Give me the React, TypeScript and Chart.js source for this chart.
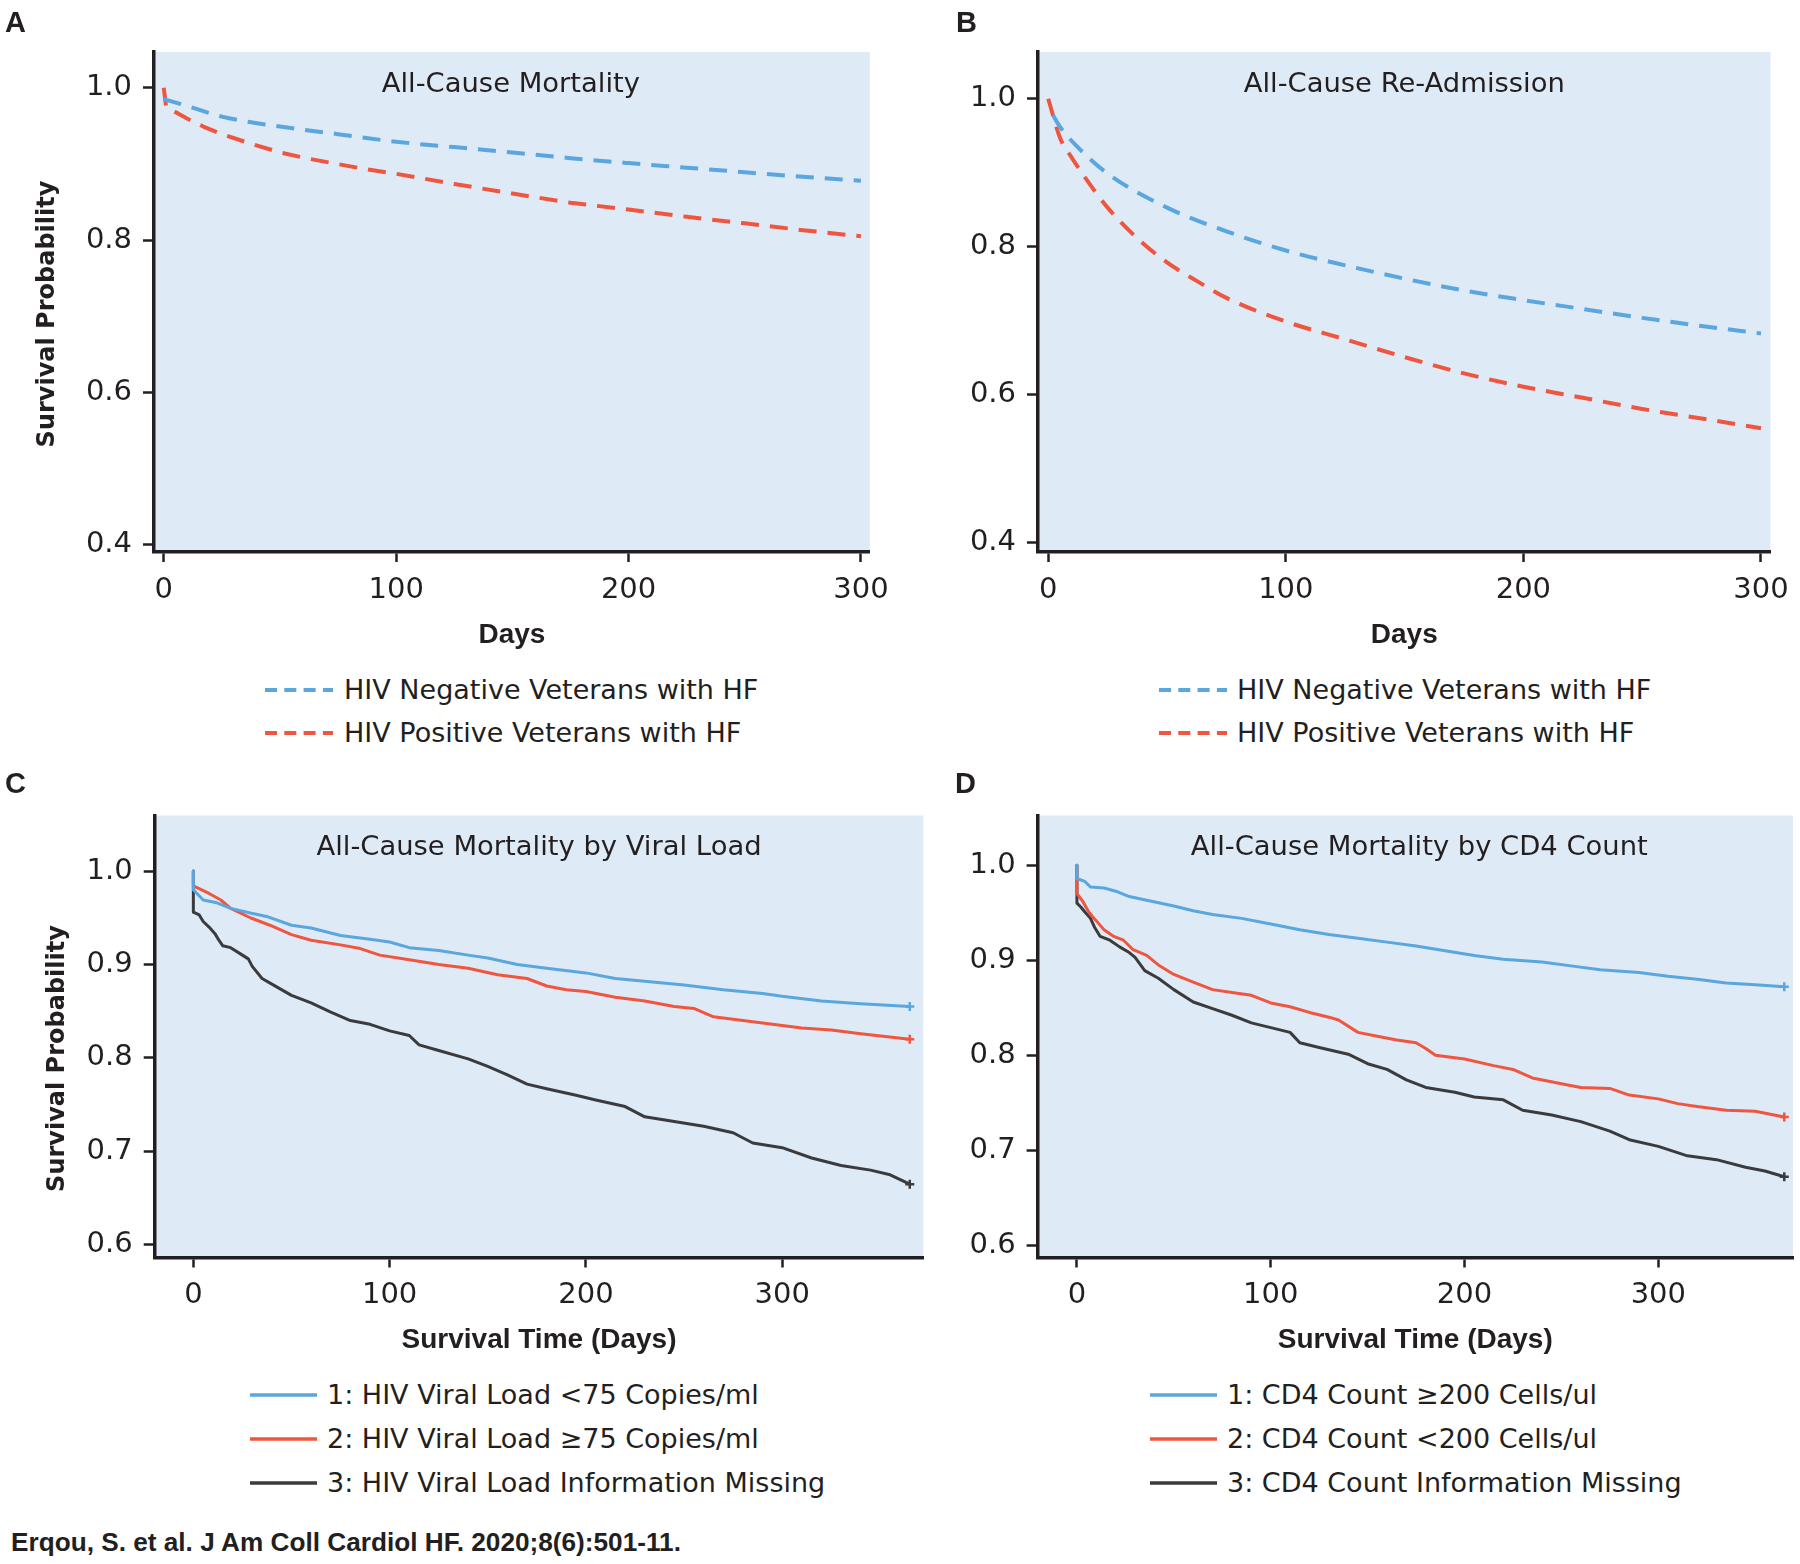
import React, { useEffect, useRef } from "react";
import { Chart, registerables } from "chart.js";

Chart.register(...registerables);

// ---------------- DATA ----------------
// Panel A: All-Cause Mortality (adjusted survival curves)
const daysANeg = [0, 10, 25, 50, 75, 100, 125, 150, 175, 200, 225, 250, 275, 300];
const aNeg = [0.985, 0.976, 0.962, 0.949, 0.939, 0.929, 0.922, 0.915, 0.9075, 0.901, 0.895, 0.889, 0.883, 0.878];
const daysAPos = [0, 1, 5, 10, 17, 25, 37, 50, 62, 75, 87, 100, 125, 150, 175, 200, 225, 250, 275, 300];
const aPos = [1.0, 0.975, 0.968, 0.9595, 0.949, 0.939, 0.927, 0.915, 0.907, 0.8997, 0.893, 0.887, 0.8737, 0.861, 0.849, 0.84, 0.8306, 0.822, 0.813, 0.805];

// Panel B: All-Cause Re-Admission
const daysBNeg = [2, 5, 12, 25, 50, 75, 100, 125, 150, 175, 200, 225, 250, 275, 300];
const bNeg = [0.978, 0.962, 0.936, 0.899, 0.853, 0.821, 0.795, 0.775, 0.757, 0.741, 0.728, 0.716, 0.704, 0.693, 0.683];
const daysBPos = [0, 5, 10, 15, 25, 38, 50, 63, 75, 100, 125, 150, 175, 200, 225, 250, 275, 300];
const bPos = [1.0, 0.947, 0.92, 0.896, 0.853, 0.81, 0.779, 0.753, 0.731, 0.699, 0.675, 0.651, 0.629, 0.611, 0.596, 0.581, 0.568, 0.555];

// Panel C: All-Cause Mortality by Viral Load (Kaplan-Meier)
const daysC1 = [0, 0, 5, 12, 19, 29, 38, 50, 60, 75, 90, 100, 110, 125, 140, 150, 165, 180, 200, 215, 230, 250, 270, 290, 300, 320, 340, 365];
const c1 = [1.0, 0.98, 0.969, 0.966, 0.96, 0.955, 0.951, 0.942, 0.939, 0.931, 0.927, 0.924, 0.918, 0.915, 0.91, 0.907, 0.9, 0.896, 0.891, 0.885, 0.882, 0.878, 0.873, 0.869, 0.866, 0.861, 0.858, 0.855];
const daysC2 = [0, 0, 8, 14, 19, 29, 39, 50, 60, 75, 85, 95, 110, 125, 140, 155, 170, 180, 190, 200, 215, 230, 245, 255, 265, 280, 295, 310, 325, 340, 365];
const c2 = [1.0, 0.984, 0.976, 0.969, 0.96, 0.95, 0.942, 0.932, 0.926, 0.921, 0.917, 0.91, 0.905, 0.9, 0.896, 0.889, 0.885, 0.877, 0.873, 0.871, 0.865, 0.861, 0.855, 0.853, 0.844, 0.84, 0.836, 0.832, 0.83, 0.826, 0.82];
const daysC3 = [0, 0, 3, 5, 8, 11, 13, 15, 19, 25, 28, 30, 35, 40, 50, 60, 70, 80, 90, 100, 110, 115, 125, 140, 150, 160, 170, 180, 195, 205, 220, 230, 245, 260, 275, 285, 300, 315, 330, 345, 355, 365];
const c3 = [1.0, 0.956, 0.953, 0.946, 0.94, 0.933, 0.926, 0.92, 0.918, 0.91, 0.906, 0.898, 0.885, 0.879, 0.867, 0.859, 0.849, 0.84, 0.836, 0.829, 0.824, 0.814, 0.808, 0.799, 0.791, 0.782, 0.772, 0.767, 0.76, 0.755, 0.748, 0.737, 0.732, 0.727, 0.72, 0.709, 0.704, 0.693, 0.685, 0.68, 0.675, 0.665];

// Panel D: All-Cause Mortality by CD4 Count (Kaplan-Meier)
const daysD1 = [0, 0, 4, 7, 14, 21, 27, 36, 50, 60, 70, 85, 100, 115, 130, 145, 160, 175, 190, 205, 220, 240, 255, 270, 290, 305, 320, 335, 350, 365];
const d1 = [1.0, 0.986, 0.983, 0.977, 0.976, 0.972, 0.967, 0.963, 0.957, 0.952, 0.948, 0.944, 0.938, 0.932, 0.927, 0.923, 0.919, 0.915, 0.91, 0.905, 0.901, 0.898, 0.894, 0.89, 0.887, 0.883, 0.88, 0.876, 0.874, 0.872];
const daysD2 = [0, 0, 3, 6, 8, 11, 14, 19, 24, 29, 36, 42, 50, 60, 70, 80, 90, 100, 110, 120, 130, 135, 145, 155, 165, 175, 180, 185, 200, 215, 225, 235, 250, 260, 275, 285, 300, 310, 320, 335, 350, 365];
const d2 = [1.0, 0.97, 0.962, 0.951, 0.946, 0.939, 0.932, 0.925, 0.921, 0.911, 0.905, 0.895, 0.885, 0.877, 0.869, 0.866, 0.863, 0.855, 0.851, 0.845, 0.84, 0.837, 0.824, 0.82, 0.816, 0.813, 0.807, 0.8, 0.796, 0.789, 0.785, 0.776, 0.77, 0.766, 0.765, 0.758, 0.754, 0.749, 0.746, 0.742, 0.741, 0.735];
const daysD3 = [0, 0, 2, 4, 7, 9, 12, 17, 22, 27, 30, 35, 42, 50, 60, 70, 80, 90, 100, 110, 115, 125, 140, 150, 160, 170, 180, 195, 205, 220, 230, 245, 260, 275, 285, 300, 315, 330, 345, 355, 365];
const d3 = [1.0, 0.96, 0.956, 0.951, 0.944, 0.935, 0.925, 0.921, 0.914, 0.908, 0.903, 0.889, 0.881, 0.869, 0.856, 0.849, 0.842, 0.834, 0.829, 0.824, 0.813, 0.808, 0.801, 0.791, 0.785, 0.774, 0.766, 0.761, 0.756, 0.753, 0.742, 0.737, 0.73, 0.72, 0.711, 0.704, 0.694, 0.69, 0.682, 0.678, 0.672];

// Tick labels
const xTicksAB = [0, 100, 200, 300];
const yTicksAB = [0.4, 0.6, 0.8, 1.0];
const xTicksCD = [0, 100, 200, 300];
const yTicksCD = [0.6, 0.7, 0.8, 0.9, 1.0];

// Labels
const titleA = "All-Cause Mortality";
const titleB = "All-Cause Re-Admission";
const titleC = "All-Cause Mortality by Viral Load";
const titleD = "All-Cause Mortality by CD4 Count";
const labelsAB = ["HIV Negative Veterans with HF", "HIV Positive Veterans with HF"];
const labelsC = ["1: HIV Viral Load <75 Copies/ml", "2: HIV Viral Load \u226575 Copies/ml", "3: HIV Viral Load Information Missing"];
const labelsD = ["1: CD4 Count \u2265200 Cells/ul", "2: CD4 Count <200 Cells/ul", "3: CD4 Count Information Missing"];
const citation = "Erqou, S. et al. J Am Coll Cardiol HF. 2020;8(6):501-11.";

// ---------------- STYLE ----------------
const BLUE = "#5AA6DE";
const RED = "#F0553F";
const DARK = "#3B3B3D";
const BG = "#DEEAF6";
const INK = "#231F20";
const REG = '"DejaVu Sans", "Liberation Sans", sans-serif';
const BOLD = '"Liberation Sans", Arial, sans-serif';

type Series = { label: string; days: number[]; vals: number[]; color: string; dashed: boolean; censor: boolean; smooth: boolean };
type PanelCfg = {
  left: number; top: number; w: number; h: number;
  padTop: number; padRight: number; yW: number; xH: number;
  xMin: number; xMax: number; yMin: number; yMax: number;
  xTicks: number[]; yTicks: number[];
  title: string; titleDy: number; titleDx: number;
  xTitle: string; xTitlePad: number;
  yTitle: string; yTitleX: number; yTitleY: number;
  series: Series[];
};

const decor = {
  id: "decor",
  beforeDraw(chart: any) {
    const { ctx, chartArea: a } = chart;
    ctx.save();
    ctx.fillStyle = BG;
    ctx.fillRect(a.left, a.top, a.right - a.left, a.bottom - a.top);
    ctx.restore();
  },
  afterDraw(chart: any, _args: any, o: any) {
    const { ctx, chartArea: a } = chart;
    ctx.save();
    ctx.fillStyle = INK;
    ctx.textAlign = "center";
    ctx.textBaseline = "middle";
    ctx.font = `27.4px ${REG}`;
    ctx.fillText(o.title, (a.left + a.right) / 2 + o.titleDx, a.top + o.titleDy);
    if (o.yTitle) {
      ctx.translate(o.yTitleX, o.yTitleY);
      ctx.rotate(-Math.PI / 2);
      ctx.font = `bold 24px "DejaVu Sans", sans-serif`;
      ctx.fillText(o.yTitle, 0, 0);
    }
    ctx.restore();
  },
};

function buildConfig(p: PanelCfg): any {
  const datasets = p.series.map((s) => ({
    label: s.label,
    data: s.days.map((d, i) => ({ x: d, y: s.vals[i] })),
    borderColor: s.color,
    backgroundColor: s.color,
    borderWidth: s.dashed ? 4 : 3,
    borderDash: s.dashed ? [18, 11] : [],
    borderCapStyle: "butt",
    borderJoinStyle: "round",
    cubicInterpolationMode: s.smooth ? "monotone" : "default",
    tension: 0,
    fill: false,
    pointRadius: s.days.map((_, i) => (s.censor && i === s.days.length - 1 ? 4.5 : 0)),
    pointStyle: "cross",
    pointBorderWidth: 2.5,
    pointBorderColor: s.color,
    pointHoverRadius: 0,
  }));
  return {
    type: "line",
    data: { datasets },
    plugins: [decor],
    options: {
      responsive: false,
      animation: false,
      devicePixelRatio: 1,
      events: [],
      layout: { padding: { top: p.padTop, right: p.padRight, left: 0, bottom: 0 } },
      plugins: {
        legend: { display: false },
        tooltip: { enabled: false },
        decor: {
          title: p.title, titleDy: p.titleDy, titleDx: p.titleDx,
          yTitle: p.yTitle, yTitleX: p.yTitleX, yTitleY: p.yTitleY,
        },
      },
      scales: {
        x: {
          type: "linear",
          min: p.xMin,
          max: p.xMax,
          afterBuildTicks: (s: any) => { s.ticks = p.xTicks.map((v) => ({ value: v })); },
          afterFit: (s: any) => { s.height = p.xH; },
          ticks: {
            font: { family: REG, size: 29 },
            color: INK,
            padding: 11,
            maxRotation: 0,
            autoSkip: false,
            callback: (v: any) => String(v),
          },
          grid: { display: true, drawOnChartArea: false, drawTicks: true, tickLength: 10, tickWidth: 2.5, tickColor: INK },
          border: { display: true, color: INK, width: 3.5 },
          title: {
            display: true,
            text: p.xTitle,
            color: INK,
            font: { family: BOLD, size: 28, weight: "bold" },
            padding: { top: 0, bottom: p.xTitlePad },
          },
        },
        y: {
          type: "linear",
          min: p.yMin,
          max: p.yMax,
          afterBuildTicks: (s: any) => { s.ticks = p.yTicks.map((v) => ({ value: v })); },
          afterFit: (s: any) => { s.width = p.yW; },
          ticks: {
            font: { family: REG, size: 29 },
            color: INK,
            padding: 11,
            autoSkip: false,
            callback: (v: any) => Number(v).toFixed(1),
          },
          grid: { display: true, drawOnChartArea: false, drawTicks: true, tickLength: 11, tickWidth: 2.5, tickColor: INK },
          border: { display: true, color: INK, width: 3.5 },
        },
      },
    },
  };
}

const panels: PanelCfg[] = [
  {
    left: 0, top: 0, w: 900, h: 660, padTop: 52, padRight: 30, yW: 154, xH: 108,
    xMin: -4.2, xMax: 303.8, yMin: 0.3907, yMax: 1.0468,
    xTicks: xTicksAB, yTicks: yTicksAB,
    title: titleA, titleDy: 33, titleDx: -1,
    xTitle: "Days", xTitlePad: 8,
    yTitle: "Survival Probability", yTitleX: 48, yTitleY: 314,
    series: [
      { label: labelsAB[0], days: daysANeg, vals: aNeg, color: BLUE, dashed: true, censor: false, smooth: true },
      { label: labelsAB[1], days: daysAPos, vals: aPos, color: RED, dashed: true, censor: false, smooth: false },
    ],
  },
  {
    left: 900, top: 0, w: 900, h: 660, padTop: 52, padRight: 27, yW: 138, xH: 108,
    xMin: -4.3, xMax: 304, yMin: 0.3877, yMax: 1.0632,
    xTicks: xTicksAB, yTicks: yTicksAB,
    title: titleB, titleDy: 33, titleDx: 0,
    xTitle: "Days", xTitlePad: 8,
    yTitle: "", yTitleX: 0, yTitleY: 0,
    series: [
      { label: labelsAB[0], days: daysBNeg, vals: bNeg, color: BLUE, dashed: true, censor: false, smooth: true },
      { label: labelsAB[1], days: daysBPos, vals: bPos, color: RED, dashed: true, censor: false, smooth: true },
    ],
  },
  {
    left: 0, top: 760, w: 940, h: 600, padTop: 55.5, padRight: 16.7, yW: 154.7, xH: 102.5,
    xMin: -19.7, xMax: 371.9, yMin: 0.5865, yMax: 1.0594,
    xTicks: xTicksCD, yTicks: yTicksCD,
    title: titleC, titleDy: 32.5, titleDx: 0,
    xTitle: "Survival Time (Days)", xTitlePad: 3,
    yTitle: "Survival Probability", yTitleX: 57.5, yTitleY: 298.5,
    series: [
      { label: labelsC[0], days: daysC1, vals: c1, color: BLUE, dashed: false, censor: true, smooth: false },
      { label: labelsC[1], days: daysC2, vals: c2, color: RED, dashed: false, censor: true, smooth: false },
      { label: labelsC[2], days: daysC3, vals: c3, color: DARK, dashed: false, censor: true, smooth: false },
    ],
  },
  {
    left: 940, top: 760, w: 860, h: 600, padTop: 55.5, padRight: 7, yW: 97.6, xH: 102.5,
    xMin: -20.3, xMax: 369.5, yMin: 0.587, yMax: 1.0523,
    xTicks: xTicksCD, yTicks: yTicksCD,
    title: titleD, titleDy: 32.5, titleDx: 4,
    xTitle: "Survival Time (Days)", xTitlePad: 3,
    yTitle: "", yTitleX: 0, yTitleY: 0,
    series: [
      { label: labelsD[0], days: daysD1, vals: d1, color: BLUE, dashed: false, censor: true, smooth: false },
      { label: labelsD[1], days: daysD2, vals: d2, color: RED, dashed: false, censor: true, smooth: false },
      { label: labelsD[2], days: daysD3, vals: d3, color: DARK, dashed: false, censor: true, smooth: false },
    ],
  },
];

function Panel({ p }: { p: PanelCfg }) {
  const ref = useRef<HTMLCanvasElement | null>(null);
  useEffect(() => {
    if (!ref.current) return;
    const chart = new Chart(ref.current, buildConfig(p));
    return () => chart.destroy();
  }, [p]);
  return (
    <canvas
      ref={ref}
      width={p.w}
      height={p.h}
      style={{ position: "absolute", left: p.left, top: p.top, width: p.w, height: p.h }}
    />
  );
}

type LegendRow = { label: string; color: string; dashed: boolean; y: number };

function Legend({ lineLeft, lineW, textLeft, rows }: { lineLeft: number; lineW: number; textLeft: number; rows: LegendRow[] }) {
  return (
    <>
      {rows.map((r, i) => (
        <React.Fragment key={i}>
          <svg
            width={lineW}
            height={10}
            style={{ position: "absolute", left: lineLeft, top: r.y - 5 }}
          >
            <line
              x1={0}
              y1={5}
              x2={lineW}
              y2={5}
              stroke={r.color}
              strokeWidth={r.dashed ? 4 : 3.5}
              strokeDasharray={r.dashed ? "12 7.3" : undefined}
            />
          </svg>
          <div
            style={{
              position: "absolute",
              left: textLeft,
              top: r.y - 20,
              height: 40,
              lineHeight: "40px",
              fontFamily: REG,
              fontSize: 27,
              color: INK,
              whiteSpace: "nowrap",
            }}
          >
            {r.label}
          </div>
        </React.Fragment>
      ))}
    </>
  );
}

function Letter({ text, left, cy }: { text: string; left: number; cy: number }) {
  return (
    <div
      style={{
        position: "absolute",
        left,
        top: cy - 20,
        height: 40,
        lineHeight: "40px",
        fontFamily: BOLD,
        fontWeight: "bold",
        fontSize: 29,
        color: INK,
      }}
    >
      {text}
    </div>
  );
}

export default function App() {
  const rowsAB = (ys: number[]): LegendRow[] => [
    { label: labelsAB[0], color: BLUE, dashed: true, y: ys[0] },
    { label: labelsAB[1], color: RED, dashed: true, y: ys[1] },
  ];
  const rows3 = (labels: string[], ys: number[]): LegendRow[] => [
    { label: labels[0], color: BLUE, dashed: false, y: ys[0] },
    { label: labels[1], color: RED, dashed: false, y: ys[1] },
    { label: labels[2], color: DARK, dashed: false, y: ys[2] },
  ];
  return (
    <div
      style={{
        position: "absolute",
        left: 0,
        top: 0,
        width: 1800,
        height: 1564,
        background: "#ffffff",
        overflow: "hidden",
      }}
    >
      {panels.map((p, i) => (
        <Panel key={i} p={p} />
      ))}
      <Letter text="A" left={5} cy={22} />
      <Letter text="B" left={956} cy={22} />
      <Letter text="C" left={5} cy={783} />
      <Letter text="D" left={955} cy={783} />
      <Legend lineLeft={265} lineW={68} textLeft={344} rows={rowsAB([690, 733])} />
      <Legend lineLeft={1159} lineW={68} textLeft={1237} rows={rowsAB([690, 733])} />
      <Legend lineLeft={250} lineW={67} textLeft={327} rows={rows3(labelsC, [1395, 1439, 1483])} />
      <Legend lineLeft={1150} lineW={67} textLeft={1227} rows={rows3(labelsD, [1395, 1439, 1483])} />
      <div
        style={{
          position: "absolute",
          left: 11,
          top: 1542 - 20,
          height: 40,
          lineHeight: "40px",
          fontFamily: BOLD,
          fontWeight: "bold",
          fontSize: 26.2,
          color: INK,
          whiteSpace: "nowrap",
        }}
      >
        {citation}
      </div>
    </div>
  );
}
